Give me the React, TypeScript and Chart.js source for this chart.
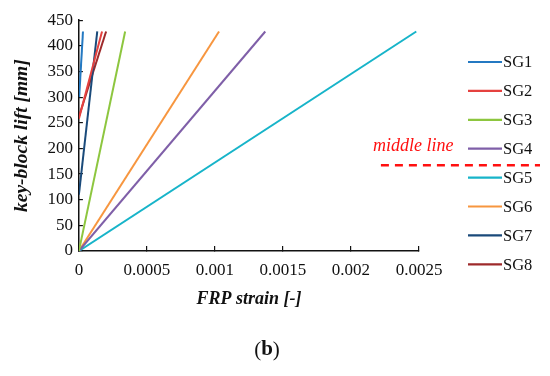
import React, { useEffect, useRef } from "react";
import { Chart, registerables } from "chart.js";

Chart.register(...registerables);

const seriesNames = ["SG1", "SG2", "SG3", "SG4", "SG5", "SG6", "SG7", "SG8"];
const seriesColors = ["#2479c2", "#e5413f", "#8dc63f", "#7f5fa8", "#17b4c9", "#f7963f", "#1a4a7a", "#9e2a2b"];
const strainSG1 = [0.000002, 0.00003];
const liftSG1 = [300, 428];
const strainSG2 = [0, 0.00017];
const liftSG2 = [258, 428];
const strainSG3 = [0, 0.00034];
const liftSG3 = [0, 428];
const strainSG4 = [0, 0.00137];
const liftSG4 = [0, 428];
const strainSG5 = [0, 0.00248];
const liftSG5 = [0, 428];
const strainSG6 = [0, 0.00103];
const liftSG6 = [0, 428];
const strainSG7 = [0, 0.000135];
const liftSG7 = [110, 428];
const strainSG8 = [0, 0.0002];
const liftSG8 = [262, 428];
const strains = [strainSG1, strainSG2, strainSG3, strainSG4, strainSG5, strainSG6, strainSG7, strainSG8];
const lifts = [liftSG1, liftSG2, liftSG3, liftSG4, liftSG5, liftSG6, liftSG7, liftSG8];

const xTicks = [0, 0.0005, 0.001, 0.0015, 0.002, 0.0025];
const xTickLabels = ["0", "0.0005", "0.001", "0.0015", "0.002", "0.0025"];
const yTicks = [0, 50, 100, 150, 200, 250, 300, 350, 400, 450];
const middleLineValue = 167;
const middleLineStartStrain = 0.00222;
const middleLineLabel = "middle line";
const panelLabel = "b";

const SERIF = "'Liberation Serif', 'Times New Roman', serif";

export default function App() {
  const ref = useRef<HTMLCanvasElement | null>(null);
  useEffect(() => {
    document.body.style.margin = "0";
    const canvas = ref.current;
    if (!canvas) return;

    const overlay = {
      id: "overlay",
      afterDraw(chart: any) {
        const ctx = chart.ctx;
        const xs = chart.scales.x;
        const ys = chart.scales.y;
        ctx.save();
        // middle line
        const yPix = ys.getPixelForValue(middleLineValue);
        const xStart = xs.getPixelForValue(middleLineStartStrain);
        ctx.strokeStyle = "#ff1010";
        ctx.lineWidth = 2.5;
        ctx.setLineDash([8, 6]);
        ctx.beginPath();
        ctx.moveTo(xStart, yPix);
        ctx.lineTo(chart.width - 10, yPix);
        ctx.stroke();
        ctx.setLineDash([]);
        ctx.fillStyle = "#ff1010";
        ctx.font = `italic 18px ${SERIF}`;
        ctx.textAlign = "left";
        ctx.textBaseline = "alphabetic";
        ctx.fillText(middleLineLabel, xStart - 8, yPix - 14);

        // legend
        const legX = 468;
        const legTop = 62;
        const legStep = 28.9;
        ctx.font = `16.5px ${SERIF}`;
        ctx.textBaseline = "middle";
        seriesNames.forEach((name, i) => {
          const y = legTop + i * legStep;
          ctx.strokeStyle = seriesColors[i];
          ctx.lineWidth = 2.2;
          ctx.beginPath();
          ctx.moveTo(legX, y);
          ctx.lineTo(legX + 34, y);
          ctx.stroke();
          ctx.fillStyle = "#111";
          ctx.fillText(name, legX + 35, y + 1);
        });

        // panel label (b)
        ctx.fillStyle = "#111";
        ctx.textBaseline = "middle";
        const fReg = `21px ${SERIF}`;
        const fBold = `bold 21px ${SERIF}`;
        ctx.font = fReg;
        const wOpen = ctx.measureText("(").width;
        const wClose = ctx.measureText(")").width;
        ctx.font = fBold;
        const wB = ctx.measureText(panelLabel).width;
        const total = wOpen + wB + wClose;
        let cx = 267 - total / 2;
        const cy = 350;
        ctx.font = fReg;
        ctx.fillText("(", cx, cy);
        cx += wOpen;
        ctx.font = fBold;
        ctx.fillText(panelLabel, cx, cy);
        cx += wB;
        ctx.font = fReg;
        ctx.fillText(")", cx, cy);
        ctx.restore();
      },
    };

    const chart = new Chart(canvas, {
      type: "scatter",
      data: {
        datasets: seriesNames.map((name, i) => ({
          label: name,
          data: strains[i].map((x, k) => ({ x, y: lifts[i][k] })),
          showLine: true,
          borderColor: seriesColors[i],
          backgroundColor: seriesColors[i],
          borderWidth: 2,
          pointRadius: 0,
          tension: 0,
        })),
      },
      options: {
        animation: false,
        responsive: false,
        maintainAspectRatio: false,
        layout: { padding: { left: 10, right: 131, top: 12, bottom: 66 } },
        plugins: {
          legend: { display: false },
          tooltip: { enabled: false },
        },
        scales: {
          x: {
            type: "linear",
            min: 0,
            max: 0.0025,
            afterBuildTicks: (s: any) => {
              s.ticks = xTicks.map((v) => ({ value: v }));
            },
            grid: {
              display: true,
              drawOnChartArea: false,
              drawTicks: true,
              tickLength: -5,
              color: "#111",
              lineWidth: 1.2,
            },
            border: { display: true, color: "#111", width: 1.5 },
            ticks: {
              color: "#111",
              font: { family: SERIF, size: 17 },
              padding: 14,
              maxRotation: 0,
              callback: (_v: any, idx: number) => xTickLabels[idx],
            },
            title: {
              display: true,
              text: "FRP strain [-]",
              color: "#111",
              font: { family: SERIF, size: 18, weight: "bold", style: "italic" },
              padding: { top: -6, bottom: 0 },
            },
          },
          y: {
            type: "linear",
            min: 0,
            max: 450,
            afterBuildTicks: (s: any) => {
              s.ticks = yTicks.map((v) => ({ value: v }));
            },
            grid: {
              display: true,
              drawOnChartArea: false,
              drawTicks: true,
              tickLength: -4,
              color: "#111",
              lineWidth: 1.2,
            },
            border: { display: true, color: "#111", width: 1.5 },
            ticks: {
              color: "#111",
              font: { family: SERIF, size: 17 },
              padding: 10,
            },
            title: {
              display: true,
              text: "key-block lift [mm]",
              color: "#111",
              font: { family: SERIF, size: 19.5, weight: "bold", style: "italic" },
              padding: { top: 0, bottom: 4 },
            },
          },
        },
      },
      plugins: [overlay],
    });
    return () => chart.destroy();
  }, []);

  return (
    <div style={{ width: 550, height: 376, background: "#fff" }}>
      <canvas ref={ref} width={550} height={376} style={{ display: "block" }} />
    </div>
  );
}
